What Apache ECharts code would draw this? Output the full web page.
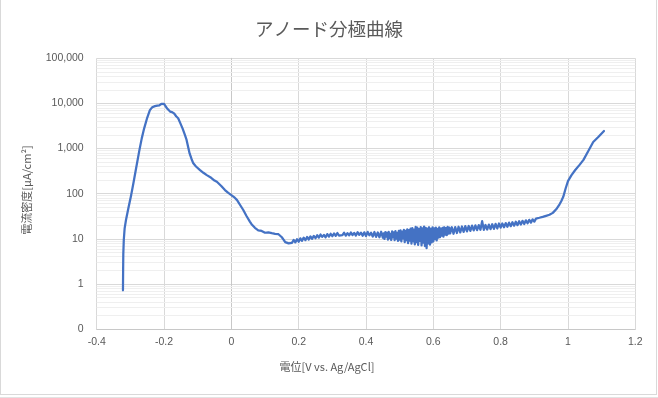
<!DOCTYPE html>
<html>
<head>
  <meta charset="utf-8">
  <style type="text/css">
      body, html {
        margin: 0;
        width: 658px;
        height: 398px;
        background: #fff;
        overflow: hidden;
      }
      #main {
        position: absolute;
        left: 0; top: 0;
        width: 658px;
        height: 398px;
      }
      #frame {
        position: absolute;
        left: 0; top: -1px;
        width: 657px; height: 396px;
        box-sizing: border-box;
        border: 1px solid #d9d9d9;
        pointer-events: none;
      }
      #edge {
        position: absolute;
        left: 0; top: 397px;
        width: 658px; height: 1px;
        background: #e3e3e3;
      }
  </style>
  <script src="https://cdn.jsdelivr.net/npm/echarts@6/dist/echarts.min.js"></script>
</head>
<body>
  <div id="main"></div>
  <div id="frame"></div>
  <div id="edge"></div>
<script>
// 電位 [V vs. Ag/AgCl]
var potential = [
  -0.322, -0.3215, -0.321, -0.3195, -0.317, -0.313, -0.305, -0.298, -0.291, -0.282,
  -0.273, -0.266, -0.259, -0.250, -0.242, -0.235, -0.227, -0.220, -0.214, -0.208,
  -0.204, -0.200, -0.196, -0.190, -0.182, -0.176, -0.170, -0.164, -0.158, -0.152,
  -0.145, -0.138, -0.133, -0.128, -0.124, -0.118, -0.113, -0.105, -0.093, -0.083,
  -0.073, -0.060, -0.050, -0.043, -0.030, -0.019, -0.010, 0.000, 0.008, 0.017,
  0.026, 0.035, 0.045, 0.055, 0.060, 0.065, 0.070, 0.075, 0.080, 0.085,
  0.090, 0.095,
  0.100, 0.105, 0.110, 0.115, 0.120, 0.125, 0.130, 0.135, 0.140, 0.145,
  0.150, 0.155, 0.160, 0.165, 0.170, 0.175, 0.180, 0.185, 0.190, 0.195,
  0.200, 0.205, 0.210, 0.215, 0.220, 0.225, 0.230, 0.235, 0.240, 0.245,
  0.250, 0.255, 0.260, 0.265, 0.270, 0.275, 0.280, 0.285, 0.290, 0.295,
  0.300, 0.305, 0.310, 0.315, 0.320, 0.325, 0.330, 0.335, 0.340, 0.345,
  0.350, 0.355, 0.360, 0.365, 0.370, 0.375, 0.380, 0.385, 0.390, 0.395,
  0.400, 0.405, 0.410, 0.415, 0.420, 0.425, 0.430, 0.435, 0.440, 0.445,
  0.4500, 0.4525, 0.4550, 0.4575, 0.4600, 0.4625, 0.4650, 0.4675, 0.4700, 0.4725,
  0.4750, 0.4775, 0.4800, 0.4825, 0.4850, 0.4875, 0.4900, 0.4925, 0.4950, 0.4975,
  0.5000, 0.5025, 0.5050, 0.5075, 0.5100, 0.5125, 0.5150, 0.5175, 0.5200, 0.5225,
  0.5250, 0.5275, 0.5300, 0.5325, 0.5350, 0.5375, 0.5400, 0.5425, 0.5450, 0.5475,
  0.5500, 0.5525, 0.5550, 0.5575, 0.5600, 0.5625, 0.5650, 0.5675, 0.5700, 0.5725,
  0.5750, 0.5775, 0.5800, 0.5825, 0.5850, 0.5875, 0.5900, 0.5925, 0.5950, 0.5975,
  0.6000, 0.6025, 0.6050, 0.6075, 0.6100, 0.6125, 0.6150, 0.6175, 0.6200, 0.6225,
  0.6250, 0.6275, 0.6300, 0.6325, 0.6350, 0.6375, 0.6400, 0.6425, 0.6450, 0.6475,
  0.650, 0.655, 0.660, 0.665, 0.670, 0.675, 0.680, 0.685, 0.690, 0.695,
  0.700, 0.705, 0.710, 0.715, 0.720, 0.725, 0.730, 0.735, 0.740, 0.745,
  0.750, 0.755, 0.760, 0.765, 0.770, 0.775, 0.780, 0.785, 0.790, 0.795,
  0.800, 0.805, 0.810, 0.815, 0.820, 0.825, 0.830, 0.835, 0.840, 0.845,
  0.850, 0.855, 0.860, 0.865, 0.870, 0.875, 0.880, 0.885, 0.890, 0.895,
  0.900, 0.905, 0.910, 0.915, 0.920, 0.925, 0.930, 0.935, 0.940, 0.945,
  0.950, 0.955, 0.960, 0.967, 0.975, 0.980, 0.986, 0.993, 1.000, 1.010,
  1.021, 1.035, 1.046, 1.060, 1.075, 1.090, 1.107
]

// 電流密度 [μA/cm2]
var current = [
  0.72, 2.0, 4.5, 9.5, 17, 26, 51, 90, 170, 400,
  935, 1700, 2800, 4800, 7100, 8200, 8700, 8900, 9000, 9800,
  10500, 9800, 8900, 7600, 6600, 6400, 6000, 5200, 4700, 3700,
  2800, 2000, 1550, 1050, 780, 580, 470, 400, 333, 290,
  257, 225, 195, 183, 148, 120, 105, 93, 84, 72,
  56, 44, 32, 24, 21, 19.2, 17.5, 16.2, 15.4, 14.6,
  14.9, 13.9,
  13.6, 12.8, 13.9, 12.7, 13.3, 12.5, 12.9, 12.1, 12.6, 11.6,
  10.8, 9.6, 8.4, 8.8, 7.9, 8.7, 8.1, 9.4, 8.3, 9.8,
  8.6, 10.2, 9.0, 10.6, 9.3, 11.0, 9.6, 11.3, 10.0, 11.6,
  10.3, 12.0, 10.6, 12.4, 11.0, 12.2, 10.8, 12.7, 11.2, 12.9,
  11.4, 13.1, 11.6, 13.4, 11.8, 13.0, 12.0, 13.6, 11.7, 13.3,
  11.9, 13.8, 12.1, 13.5, 11.8, 14.0, 12.2, 13.7, 11.6, 13.9,
  11.5, 14.2, 11.9, 13.6, 11.2, 14.1, 11.0, 13.8, 10.8, 14.3,
  10.6, 13.2, 9.9, 14.0, 11.2, 13.6, 9.6, 14.2, 10.3, 12.9,
  9.4, 14.5, 10.8, 13.8, 9.3, 14.8, 10.1, 13.5, 9.0, 15.0,
  9.6, 15.3, 8.7, 14.4, 10.2, 15.8, 8.4, 14.9, 9.3, 16.2,
  8.0, 15.6, 9.1, 16.8, 7.8, 17.2, 8.8, 15.9, 7.5, 18.3,
  8.4, 17.6, 7.3, 16.4, 9.0, 18.2, 7.1, 17.0, 8.2, 18.6,
  6.9, 17.4, 6.2, 16.8, 7.9, 18.0, 7.4, 16.5, 8.3, 17.8,
  8.7, 16.9, 9.8, 17.6, 9.2, 16.6, 10.6, 17.9, 10.9, 16.8,
  11.8, 17.5, 11.2, 18.0, 12.4, 17.2, 12.1, 18.3, 13.0, 17.7,
  13.2, 18.0, 12.9, 18.2, 13.4, 18.5, 13.8, 18.7, 14.2, 19.0,
  14.6, 19.2, 14.9, 19.6, 15.3, 19.8, 15.5, 20.1, 15.8, 24.5,
  15.8, 20.2, 16.0, 20.6, 16.3, 21.0, 16.6, 21.4, 16.9, 21.8,
  17.6, 21.8, 18.0, 22.3, 18.5, 22.8, 19.0, 23.3, 19.5, 23.8,
  20.0, 24.4, 20.6, 25.0, 21.3, 25.6, 22.0, 26.3, 22.8, 27.0,
  24.0, 28.0, 25.3, 29.2, 26.8, 30.6, 28.6, 32.2, 30.6, 34.0,
  35.5, 37.5, 40.5, 47, 58, 68, 85, 130, 190, 255,
  330, 440, 560, 870, 1400, 1800, 2450
]

var xTicks = { min: -0.4, max: 1.2, interval: 0.2 }
var yTicks = { min: 0.1, max: 100000 }

// log minor grid (2..9 x 10^n)
var minorGrid = []
for (var e = -1; e < 5; e++) {
  for (var m = 2; m <= 9; m++) {
    minorGrid.push(+(m * Math.pow(10, e)).toPrecision(3))
  }
}

var labelFont = "'Liberation Sans', 'Noto Sans', sans-serif"
var cjkFont = "'Noto Sans CJK JP', 'Noto Sans', sans-serif"

const chart = echarts.init(document.getElementById('main'), null, { renderer: 'canvas' })

chart.setOption({
  animation: false,
  backgroundColor: 'transparent',
  title: {
    text: 'アノード分極曲線',
    left: 'center',
    top: 15,
    textStyle: {
      fontFamily: cjkFont,
      fontSize: 18.5,
      fontWeight: 'normal',
      color: '#595959'
    }
  },
  grid: { left: 96.7, right: 22.7, top: 58.3, bottom: 69, containLabel: false },
  xAxis: {
    type: 'value',
    min: xTicks.min,
    max: xTicks.max,
    interval: xTicks.interval,
    axisLine: { lineStyle: { color: '#c8c8c8' } },
    axisTick: { show: false },
    splitLine: { show: true, lineStyle: { color: '#d9d9d9' } },
    axisLabel: {
      color: '#595959',
      fontFamily: labelFont,
      fontSize: 10.5,
      margin: 8,
      formatter: function (v) { return String(+v.toFixed(1)) }
    }
  },
  yAxis: {
    type: 'log',
    logBase: 10,
    min: yTicks.min,
    max: yTicks.max,
    axisLine: { show: true, lineStyle: { color: '#c8c8c8' } },
    axisTick: { show: false },
    splitLine: { show: true, lineStyle: { color: '#d9d9d9' } },
    axisLabel: {
      color: '#595959',
      fontFamily: labelFont,
      fontSize: 10.5,
      margin: 13,
      formatter: function (v) {
        if (v < 1) return '0'
        return Math.round(v).toLocaleString('en-US')
      }
    }
  },
  graphic: [
    {
      type: 'text',
      x: 327, y: 367,
      style: {
        text: '電位[V vs. Ag/AgCl]',
        x: 0, y: 0,
        align: 'center', verticalAlign: 'middle',
        font: '11px ' + cjkFont,
        fill: '#595959'
      }
    },
    {
      type: 'text',
      x: 27, y: 190,
      rotation: Math.PI / 2,
      style: {
        text: '電流密度[μA/cm²]',
        x: 0, y: 0,
        align: 'center', verticalAlign: 'middle',
        font: '11px ' + cjkFont,
        fill: '#595959'
      }
    }
  ],
  series: [
    {
      type: 'line',
      data: [],
      z: 1,
      silent: true,
      markLine: {
        z: 1,
        silent: true,
        symbol: 'none',
        label: { show: false },
        lineStyle: { color: '#efefef', type: 'solid', width: 1 },
        data: minorGrid.map(function (v) { return { yAxis: v } })
      }
    },
    {
      type: 'line',
      z: 10,
      showSymbol: false,
      symbol: 'none',
      lineStyle: { color: '#4472c4', width: 2.25, type: 'solid', cap: 'round', join: 'round' },
      data: potential.map(function (v, i) { return [v, current[i]] })
    }
  ]
})
</script>
</body>
</html>
